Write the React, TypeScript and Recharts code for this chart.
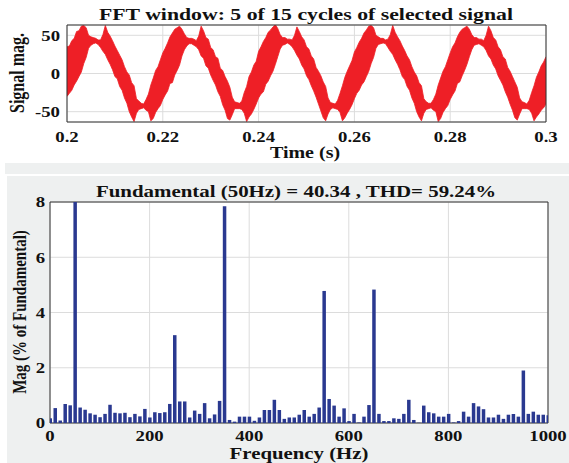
import {
  Area,
  Bar,
  BarChart,
  CartesianGrid,
  ComposedChart,
  ReferenceArea,
  XAxis,
  YAxis,
} from "recharts";

const FONT = '"Liberation Serif", "Times New Roman", serif';
const STRETCH = 1.25;

// time window 0.2 .. 0.3 s, one sample per 0.5 ms (envelope of the noisy trace)
const timeS = Array.from({ length: 201 }, (_, i) => 0.2 + i * 0.0005);
const signalHigh = [
  35, 36, 43, 46, 55, 56, 62, 63, 60, 50, 48, 47, 46, 44, 44, 51, 63, 54, 49, 43,
  36, 30, 24, 18, 9, 2, -2, -12, -16, -33, -36, -39, -40, -34, -27, -15, -6, 4, 9, 18,
  27, 33, 40, 48, 53, 58, 60, 62, 58, 52, 47, 46, 46, 45, 43, 49, 62, 56, 47, 45,
  34, 31, 22, 20, 7, 4, -4, -10, -18, -31, -37, -38, -39, -36, -25, -17, -4, 2, 11, 16,
  29, 35, 42, 47, 54, 57, 61, 64, 59, 51, 47, 47, 45, 45, 44, 50, 61, 55, 48, 44,
  35, 32, 23, 19, 8, 3, -3, -11, -17, -32, -38, -39, -40, -35, -26, -16, -5, 3, 10, 17,
  28, 34, 41, 46, 53, 57, 62, 63, 60, 50, 48, 46, 46, 44, 45, 51, 63, 54, 48, 43,
  36, 30, 23, 18, 9, 2, -3, -12, -16, -33, -37, -39, -39, -34, -27, -15, -6, 3, 9, 18,
  27, 35, 40, 48, 54, 58, 60, 62, 58, 51, 47, 47, 45, 45, 43, 50, 62, 56, 47, 44,
  35, 31, 22, 19, 8, 3, -4, -11, -18, -32, -37, -38, -40, -35, -25, -16, -5, 2, 10, 15,
  22,
];
const signalLow = [
  -30, -26, -22, -15, -10, -4, 2, 13, 21, 33, 37, 39, 40, 38, 34, 29, 25, 18, 12, 5,
  -4, -7, -17, -22, -32, -39, -50, -57, -63, -52, -47, -46, -45, -48, -50, -62, -59, -51, -46, -42,
  -34, -28, -23, -13, -12, -2, 4, 11, 23, 31, 36, 39, 39, 37, 35, 31, 23, 20, 10, 7,
  -2, -9, -15, -24, -30, -41, -48, -59, -61, -54, -46, -46, -46, -47, -52, -63, -57, -53, -47, -40,
  -32, -27, -24, -14, -10, -3, 3, 12, 22, 32, 37, 38, 40, 38, 35, 30, 24, 19, 11, 6,
  -3, -8, -16, -23, -31, -40, -49, -58, -62, -53, -47, -45, -46, -47, -51, -62, -58, -52, -47, -41,
  -33, -26, -22, -15, -11, -4, 3, 13, 21, 33, 38, 39, 40, 39, 34, 29, 25, 18, 12, 5,
  -4, -8, -17, -22, -32, -39, -50, -57, -62, -52, -47, -46, -45, -48, -50, -63, -59, -51, -46, -42,
  -34, -28, -23, -13, -11, -3, 4, 12, 22, 31, 37, 38, 39, 37, 35, 30, 23, 19, 11, 6,
  -3, -9, -15, -24, -31, -40, -48, -58, -61, -53, -46, -46, -46, -47, -52, -62, -57, -53, -48, -45,
  -40,
];
const timeTicks = [0.2, 0.22, 0.24, 0.26, 0.28, 0.3];
const signalTicks = [-50, 0, 50];

// spectrum, 10 Hz bins
const freqHz = Array.from({ length: 101 }, (_, i) => i * 10);
const magPct = [
  0.17, 0.54, 0.09, 0.69, 0.64, 100, 0.56, 0.48, 0.35, 0.3,
  0.21, 0.33, 0.66, 0.37, 0.35, 0.37, 0.21, 0.33, 0.24, 0.51,
  0.2, 0.39, 0.36, 0.39, 0.69, 3.18, 0.78, 0.78, 0.2, 0.45,
  0.33, 0.72, 0.17, 0.31, 0.8, 7.85, 0.11, 0.05, 0.23, 0.23,
  0.23, 0.08, 0.2, 0.47, 0.47, 0.84, 0.47, 0.15, 0.2, 0.2,
  0.3, 0.47, 0.23, 0.33, 0.56, 4.78, 0.87, 0.63, 0.23, 0.53,
  0.07, 0.33, 0.02, 0.23, 0.65, 4.83, 0.33, 0.07, 0.07, 0.17,
  0.15, 0.33, 0.84, 0.11, 0.01, 0.63, 0.39, 0.35, 0.23, 0.23,
  0.33, 0.02, 0.07, 0.41, 0.23, 0.72, 0.6, 0.5, 0.2, 0.2,
  0.3, 0.15, 0.3, 0.33, 0.23, 1.9, 0.33, 0.41, 0.3, 0.3,
  0.28,
];
const freqTicks = [0, 200, 400, 600, 800, 1000];
const magTicks = [0, 2, 4, 6, 8];

function XTick({ x, y, payload }: any) {
  return (
    <g transform={`translate(${x},${y})`}>
      <text
        transform={`scale(${STRETCH},1)`}
        textAnchor="middle"
        dy="0.71em"
        fontFamily={FONT}
        fontWeight="bold"
        fontSize={15}
        fill="#111"
      >
        {payload.value}
      </text>
    </g>
  );
}

function YTick({ x, y, payload }: any) {
  return (
    <g transform={`translate(${x},${y})`}>
      <text
        transform={`scale(${STRETCH},1)`}
        textAnchor="end"
        dy="0.35em"
        fontFamily={FONT}
        fontWeight="bold"
        fontSize={15}
        fill="#111"
      >
        {payload.value}
      </text>
    </g>
  );
}

function Labels() {
  const common = { fontFamily: FONT, fontWeight: "bold" as const, fill: "#111" };
  return (
    <svg
      width={569}
      height={463}
      style={{ position: "absolute", left: 0, top: 0, pointerEvents: "none" }}
    >
      <text {...common} fontSize={17} textAnchor="middle" transform={`translate(306,20) scale(1.28,1)`}>
        FFT window: 5 of 15 cycles of selected signal
      </text>
      <text {...common} fontSize={16} textAnchor="middle" transform={`translate(305,158) scale(${STRETCH},1)`}>
        Time (s)
      </text>
      <text {...common} fontSize={16} textAnchor="middle" dy="0.35em" transform={`translate(17,73) rotate(-90) scale(1,${STRETCH})`}>
        Signal mag.
      </text>
      <text {...common} fontSize={17} textAnchor="middle" transform={`translate(296,197) scale(1.23,1)`}>
        Fundamental (50Hz) = 40.34 , THD= 59.24%
      </text>
      <text {...common} fontSize={16} textAnchor="middle" transform={`translate(299,459) scale(1.3,1)`}>
        Frequency (Hz)
      </text>
      <text {...common} fontSize={15} textAnchor="middle" dy="0.35em" transform={`translate(19,312) rotate(-90) scale(1,${STRETCH})`}>
        Mag (% of Fundamental)
      </text>
    </svg>
  );
}

export default function App() {
  const signalData = timeS.map((t, i) => ({ t, band: [signalLow[i], signalHigh[i]] }));
  const spectrumData = freqHz.map((f, i) => ({ f, mag: magPct[i] }));

  return (
    <div style={{ position: "absolute", left: 0, top: 0, width: 569, height: 463, background: "#fff", overflow: "hidden" }}>
      <div style={{ position: "absolute", left: 5, top: 163, width: 564, height: 11, background: "#eef0f0" }} />
      <div style={{ position: "absolute", left: 7, top: 176, width: 562, height: 287, background: "#eef0f0" }} />

      <div style={{ position: "absolute", left: 0, top: 0 }}>
        <ComposedChart width={569} height={163} data={signalData} margin={{ top: 25, right: 23, bottom: 0, left: 0 }}>
          <CartesianGrid stroke="#dcdcdc" fill="#ffffff" />
          <XAxis
            dataKey="t"
            type="number"
            domain={[0.2, 0.3]}
            ticks={timeTicks}
            allowDataOverflow
            height={41}
            tickSize={0}
            tickMargin={9}
            axisLine={false}
            tick={<XTick />}
          />
          <YAxis
            type="number"
            domain={[-63.5, 63.5]}
            ticks={signalTicks}
            allowDataOverflow
            width={67}
            tickSize={0}
            tickMargin={7}
            axisLine={false}
            tick={<YTick />}
          />
          <Area
            dataKey="band"
            type="linear"
            fill="#ee1f26"
            fillOpacity={1}
            stroke="#ee1f26"
            strokeWidth={0.8}
            isAnimationActive={false}
          />
          <ReferenceArea x1={0.2} x2={0.3} y1={-63.5} y2={63.5} fill="none" stroke="#333" strokeOpacity={1} />
        </ComposedChart>
      </div>

      <div style={{ position: "absolute", left: 0, top: 176 }}>
        <BarChart width={569} height={287} data={spectrumData} margin={{ top: 26, right: 21, bottom: 0, left: 0 }}>
          <CartesianGrid stroke="#dcdcdc" fill="#ffffff" />
          <XAxis
            dataKey="f"
            type="number"
            domain={[0, 1000]}
            ticks={freqTicks}
            allowDataOverflow
            height={40}
            tickSize={0}
            tickMargin={7}
            axisLine={false}
            tick={<XTick />}
          />
          <YAxis
            type="number"
            domain={[0, 8]}
            ticks={magTicks}
            allowDataOverflow
            width={50}
            tickSize={0}
            tickMargin={5}
            axisLine={false}
            tick={<YTick />}
          />
          <Bar dataKey="mag" fill="#2a3990" barSize={3.5} isAnimationActive={false} />
          <ReferenceArea x1={0} x2={1000} y1={0} y2={8} fill="none" stroke="#333" strokeOpacity={1} />
        </BarChart>
      </div>

      <Labels />
    </div>
  );
}
